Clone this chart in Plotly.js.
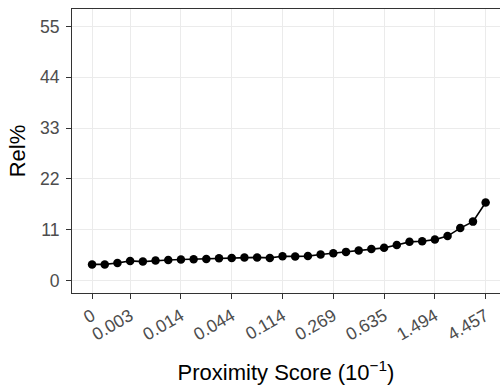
<!DOCTYPE html>
<html>
<head>
<meta charset="utf-8">
<script src="https://cdn.plot.ly/plotly-3.0.1.min.js"></script>
<style>html,body{margin:0;padding:0;background:#fff;}#chart{width:500px;height:385px;}</style>
</head>
<body>
<div id="chart"></div>
<script>
// Rel% at each of the 32 ordered proximity-score levels
const relPercent = [3.49, 3.49, 3.78, 4.25, 4.10, 4.35, 4.45, 4.55, 4.62, 4.68, 4.82, 4.90,
                    5.00, 5.00, 4.90, 5.25, 5.22, 5.29, 5.62, 5.90, 6.20, 6.50, 6.81, 7.07,
                    7.68, 8.37, 8.50, 8.86, 9.62, 11.35, 12.75, 16.90];
// Labelled levels (position in the ordered sequence) and their proximity scores
const tickLevels = [0, 3, 7, 11, 15, 19, 23, 27, 31];
const tickLabels = ["0", "0.003", "0.014", "0.044", "0.114", "0.269", "0.635", "1.494", "4.457"];
const yTicks = [0, 11, 22, 33, 44, 55];

const levels = relPercent.map((_, i) => i);

const trace = {
  x: levels,
  y: relPercent,
  type: 'scatter',
  mode: 'lines+markers',
  line: {color: '#000000', width: 1.6},
  marker: {color: '#000000', size: 8.5},
  hoverinfo: 'x+y'
};

const fam = 'Liberation Sans, Arial, Helvetica, sans-serif';

const layout = {
  width: 500, height: 385,
  margin: {l: 72, r: 0, t: 9, b: 92},
  paper_bgcolor: '#ffffff',
  plot_bgcolor: '#ffffff',
  showlegend: false,
  font: {family: fam, color: '#000000'},
  xaxis: {
    range: [-1.58, 32.13],
    tickmode: 'array',
    tickvals: tickLevels,
    ticktext: tickLabels,
    tickangle: -30,
    tickfont: {size: 17.6, color: '#4D4D4D', family: fam},
    ticks: 'outside', ticklen: 5, tickwidth: 1, tickcolor: '#333333',
    showgrid: true, gridcolor: '#EBEBEB', gridwidth: 1,
    zeroline: false,
    showline: true, linecolor: '#333333', linewidth: 1, mirror: true,
    title: {text: 'Proximity Score (10<sup>−1</sup>)', font: {size: 22, color: '#000000', family: fam}, standoff: 21},
    automargin: false
  },
  yaxis: {
    range: [-2.7, 58.77],
    tickmode: 'array',
    tickvals: yTicks,
    ticktext: yTicks.map(String),
    tickfont: {size: 17.6, color: '#4D4D4D', family: fam},
    ticks: 'outside', ticklen: 5, tickwidth: 1, tickcolor: '#333333',
    ticklabelstandoff: 3,
    showgrid: true, gridcolor: '#EBEBEB', gridwidth: 1,
    zeroline: false,
    showline: true, linecolor: '#333333', linewidth: 1, mirror: false,
    title: {text: 'Rel%', font: {size: 22, color: '#000000', family: fam}, standoff: 8},
    automargin: false
  }
};

Plotly.newPlot('chart', [trace], layout, {displayModeBar: false, staticPlot: true});
</script>
</body>
</html>
